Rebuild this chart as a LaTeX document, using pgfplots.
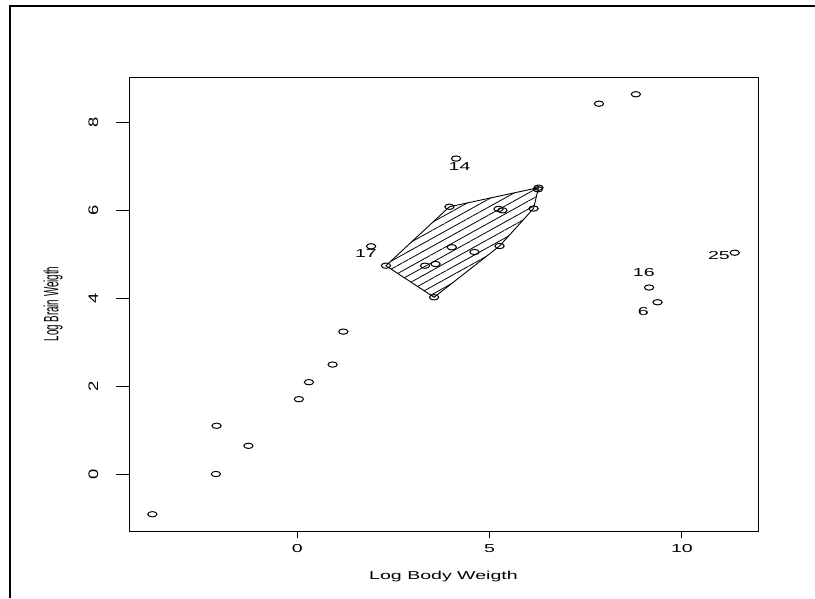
\documentclass[border=0pt]{standalone}
\usepackage{pgfplots}
\pgfplotsset{compat=1.18}
\usepackage{fontspec}
\setmainfont{Liberation Sans}
\usetikzlibrary{patterns.meta}

\pgfplotstableread{
x y
0.300 2.092
6.142 6.047
3.593 4.783
3.320 4.745
0.039 1.705
9.367 3.912
7.843 8.434
5.232 6.038
6.256 6.485
2.303 4.745
1.194 3.243
6.271 6.522
5.333 6.006
4.127 7.185
8.803 8.650
9.148 4.248
1.917 5.187
3.555 4.025
-2.120 0.000
-3.772 -0.916
0.916 2.493
4.016 5.165
4.605 5.056
3.954 6.087
-1.273 0.642
11.374 5.040
-2.104 1.099
5.258 5.193
}\animals

\newcommand{\lab}{\fontsize{11.5}{12}\selectfont}

\begin{document}
\begin{tikzpicture}[x=1pt,y=1pt]
\path[use as bounding box] (0,0) rectangle (815,598);
\draw[line width=2pt] (10,0) -- (10,592) -- (815,592);
\begin{axis}[
  at={(129pt,67pt)}, anchor=south west,
  scale only axis, width=629pt, height=453pt,
  xmin=-4.38, xmax=11.98, ymin=-1.298, ymax=9.02,
  axis line style={line width=1pt},
  xtick={0,5,10}, ytick={0,2,4,6,8},
  tick align=outside, tick pos=left,
  major tick style={line width=1pt, black},
  major tick length=7pt,
  ytick style={/pgfplots/major tick length=13pt},
  /pgf/number format/assume math mode=true,
  xticklabel style={font=\lab, xscale=1.7, anchor=north, inner sep=0pt, yshift=-6pt},
  yticklabel style={xshift=-24pt, rotate=90, anchor=base, inner sep=0pt, font=\lab, xscale=1.6, yscale=1.2},
  clip=false,
]
\addplot[draw=black, line width=0.9pt,
  pattern={Lines[angle=29, distance=7pt, line width=0.8pt]}]
  coordinates {(2.303,4.745) (3.555,4.025) (5.258,5.193) (6.142,6.047) (6.271,6.522) (3.954,6.087)} -- cycle;
\addplot[only marks, mark=o, mark size=2.65pt,
  mark options={xscale=1.75, line width=1pt, black}] table[x=x,y=y] {\animals};
\node[font=\lab, xscale=1.7] at (axis cs:4.219,6.993) {14};
\node[font=\lab, xscale=1.7] at (axis cs:1.784,5.011) {17};
\node[font=\lab, xscale=1.7] at (axis cs:10.964,4.966) {25};
\node[font=\lab, xscale=1.7] at (axis cs:9.010,4.579) {16};
\node[font=\lab, xscale=1.7] at (axis cs:8.997,3.690) {6};
\end{axis}
\node[font=\lab, xscale=1.7] at (443.5,21) {Log Body Weigth};
\node[font=\lab, rotate=90, xscale=0.85, yscale=1.8] at (53,294) {Log Brain Weigth};
\end{tikzpicture}
\end{document}
